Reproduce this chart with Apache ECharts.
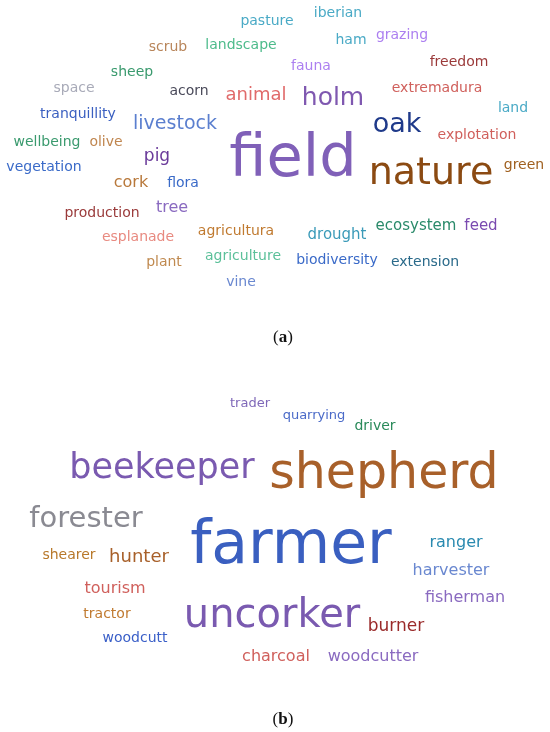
<!DOCTYPE html>
<html>
<head>
<meta charset="utf-8">
<title>word clouds</title>
<script src="https://cdn.jsdelivr.net/npm/echarts@6/dist/echarts.min.js"></script>
<style>
  html, body { margin: 0; padding: 0; background: #fff; }
  #chart { width: 550px; height: 732px; }
</style>
</head>
<body>
<div id="chart"></div>
<script>
// (a) words: weight = relative size in the cloud, x/y = place in panel units
const wordsA = ['pasture', 'iberian', 'ham', 'grazing', 'scrub', 'landscape', 'fauna', 'freedom',
  'sheep', 'space', 'acorn', 'animal', 'holm', 'extremadura', 'land', 'oak', 'explotation',
  'tranquillity', 'livestock', 'wellbeing', 'olive', 'field', 'nature', 'green', 'pig',
  'vegetation', 'cork', 'flora', 'tree', 'production', 'esplanade', 'agricultura', 'plant',
  'agriculture', 'vine', 'drought', 'ecosystem', 'feed', 'biodiversity', 'extension']
const weightA = [14, 14, 14, 14, 14, 14, 14, 14,
  14, 14, 14, 18, 25, 14, 14, 27, 14,
  14, 19, 14, 14, 59, 38, 14, 17,
  14, 16, 14, 16, 14, 14, 14, 14,
  14, 14, 15, 15, 15, 14, 14]
const xA = [267, 338, 351, 402, 168, 241, 311, 459,
  132, 74, 189, 256, 333, 437, 513, 397, 477,
  78, 175, 47, 106, 293, 431, 524, 157,
  44, 131, 183, 172, 102, 138, 236, 164,
  243, 241, 337, 416, 481, 337, 425]
const yA = [21, 13, 40, 35, 47, 45, 66, 62,
  72, 88, 91, 95, 98, 88, 108, 125, 135,
  114, 124, 142, 142, 161, 174, 165, 157,
  167, 183, 183, 208, 213, 237, 231, 262,
  256, 282, 235, 226, 226, 260, 262]

// (b) words
const wordsB = ['trader', 'quarrying', 'driver', 'beekeeper', 'shepherd', 'forester', 'farmer',
  'ranger', 'shearer', 'hunter', 'harvester', 'fisherman', 'tourism', 'tractor', 'woodcutt',
  'uncorker', 'burner', 'charcoal', 'woodcutter']
const weightB = [13, 13, 14, 35, 49, 29, 60,
  16, 14, 18, 16, 16, 16, 14, 14,
  40, 17, 16, 16]
const xB = [250, 314, 375, 162, 384, 86, 291,
  456, 69, 139, 451, 465, 115, 107, 135,
  272, 396, 276, 373]
const yB = [38, 50, 60, 103, 109, 153, 181,
  177, 189, 191, 205, 232, 223, 248, 272,
  251, 261, 291, 291]

// colours, one per word
const colorsA = ['#4aaac6', '#4aaac6', '#4aaac6', '#ac7ff0', '#b8855a', '#4dbb8b', '#ac7ff0', '#9b3a3a',
  '#3a9a6e', '#a8aab8', '#4a4a5a', '#e06a6a', '#7f58b0', '#d0605c', '#4aaac6', '#1f3a8a', '#d0605c',
  '#3a5fc0', '#5b7fcf', '#3a9a6e', '#c0864f', '#8060b8', '#8b4a12', '#a0601f', '#6a3a9a',
  '#3a6ac8', '#b8783a', '#3a6ac8', '#8a6ac0', '#9a3a3a', '#e88a80', '#c07a30', '#c08a50',
  '#5cc09a', '#6a88d0', '#3a9ab8', '#2a8a6a', '#7a4ab0', '#3a6ac8', '#2a6a8a']
const colorsB = ['#7f68b8', '#4a6ac8', '#2a8a5a', '#7a5ab0', '#a8602a', '#8a8a92', '#3a5fc0',
  '#2a8ab0', '#b8782a', '#a8602a', '#6a88d0', '#8a6ac0', '#d0605c', '#c07a30', '#3a5fc8',
  '#7a5ab0', '#9a2a2a', '#d0605c', '#8a6ac0']

function buildData(words, weight, xs, ys, colors) {
  return words.map((w, i) => ({
    name: w,
    value: [xs[i], ys[i], weight[i]],
    label: { fontSize: weight[i], color: colors[i] }
  }))
}

function cloudSeries(idx, data) {
  return {
    type: 'scatter',
    xAxisIndex: idx,
    yAxisIndex: idx,
    symbolSize: 1,
    // scatter defaults to 0.8 opacity, which also fades the labels
    itemStyle: { color: 'rgba(0,0,0,0)', opacity: 1 },
    silent: true,
    animation: false,
    label: {
      show: true,
      position: 'inside',
      formatter: '{b}',
      fontFamily: 'DejaVu Sans',
      align: 'center',
      verticalAlign: 'middle',
      opacity: 1
    },
    labelLayout: { hideOverlap: false },
    data: data
  }
}

const panelTitle = (letter, top) => ({
  text: '({b|' + letter + '})',
  left: 278,
  textAlign: 'center',
  top: top,
  textStyle: {
    fontFamily: 'Liberation Serif',
    fontSize: 17,
    fontWeight: 'normal',
    color: '#111',
    rich: { b: { fontFamily: 'Liberation Serif', fontSize: 17, fontWeight: 'bold', color: '#111' } }
  }
})

const chart = echarts.init(document.getElementById('chart'))
chart.setOption({
  backgroundColor: '#fff',
  title: [panelTitle('a', 324), panelTitle('b', 706)],
  grid: [
    { left: 0, top: 0, width: 550, height: 366 },
    { left: 0, top: 366, width: 550, height: 366 }
  ],
  xAxis: [
    { type: 'value', gridIndex: 0, min: 0, max: 550, show: false },
    { type: 'value', gridIndex: 1, min: 0, max: 550, show: false }
  ],
  yAxis: [
    { type: 'value', gridIndex: 0, min: 0, max: 366, inverse: true, show: false },
    { type: 'value', gridIndex: 1, min: 0, max: 366, inverse: true, show: false }
  ],
  series: [
    cloudSeries(0, buildData(wordsA, weightA, xA, yA, colorsA)),
    cloudSeries(1, buildData(wordsB, weightB, xB, yB, colorsB))
  ]
})
</script>
</body>
</html>
